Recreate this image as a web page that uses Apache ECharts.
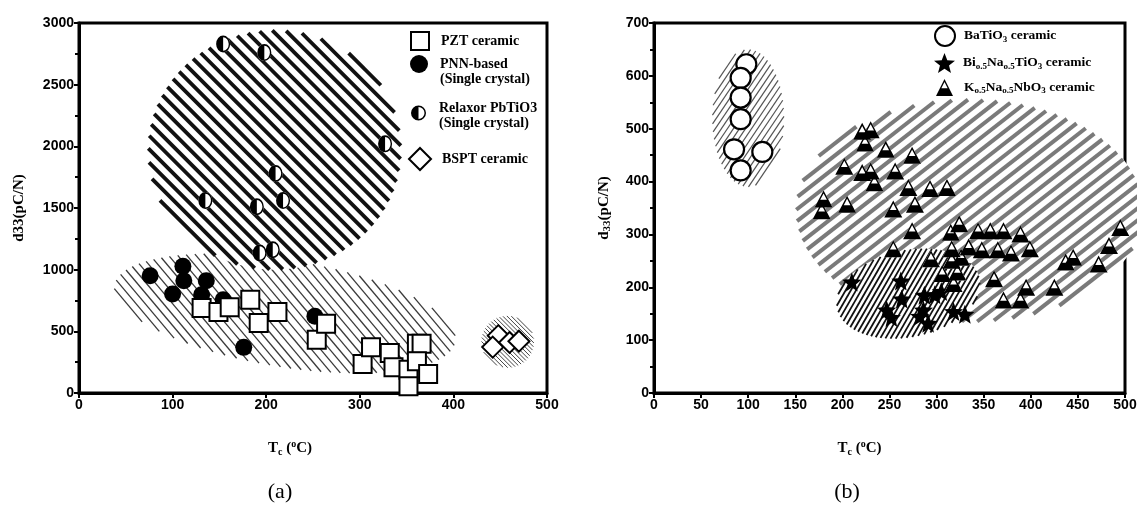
<!DOCTYPE html>
<html><head><meta charset="utf-8">
<script src="https://cdn.jsdelivr.net/npm/echarts@6/dist/echarts.min.js"></script>
<style>html,body{margin:0;padding:0;background:#fff}#c{width:1137px;height:520px}</style>
</head><body><div id="c"></div>
<script>
// ---------------- data ----------------
const leftXTicks = [0, 100, 200, 300, 400, 500];
const leftYTicks = [0, 500, 1000, 1500, 2000, 2500, 3000];
const rightXTicks = [0, 50, 100, 150, 200, 250, 300, 350, 400, 450, 500];
const rightYTicks = [0, 100, 200, 300, 400, 500, 600, 700];

// (a) Tc (°C), d33 (pC/N)
const pztCeramic = [[131,690],[149,657],[161,695],[183,757],[192,568],[212,657],[254,432],[264,562],[303,235],[312,370],[332,324],[336,208],[352,189],[361,400],[366,400],[361,257],[373,154],[352,54]];
const pnnBased = [[76,951],[111,1027],[112,911],[100,803],[136,911],[131,797],[154,757],[176,370],[252,622]];
const relaxorPbTiO3 = [[154,2830],[198,2760],[327,2020],[210,1780],[135,1560],[190,1510],[218,1560],[193,1135],[207,1162]];
const bsptCeramic = [[448,465],[442,372],[460,410],[470,420]];

// (b)
const batio3Ceramic = [[98,622],[92,596],[92,559],[92,518],[85,461],[115,456],[92,421]];
const bntCeramic = [[210,210],[262,212],[247,157],[252,143],[263,178],[287,185],[298,186],[305,192],[286,157],[282,145],[291,132],[318,154],[330,149]];
const knnCeramic = [[221,495],[230,498],[224,473],[246,461],[274,450],[202,429],[221,417],[230,420],[234,398],[256,420],[270,389],[293,387],[311,389],[180,367],[178,345],[205,357],[254,348],[277,357],[274,307],[254,273],[315,304],[324,320],[344,307],[357,307],[371,307],[389,301],[316,273],[334,276],[348,271],[365,271],[379,265],[399,273],[294,254],[316,251],[326,257],[306,226],[322,229],[318,207],[361,216],[395,200],[425,200],[371,176],[389,176],[437,248],[445,257],[472,244],[483,279],[495,313]];

// shaded regions: [centreX, centreY, semiAxis1 dx, dy, semiAxis2 dx, dy] in data units
const leftRegions = [
  [220, 645, 182, -232, -11, -426],   // PNN / PZT region
  [209, 1970, 135, 0, 0, 970],        // relaxor single crystals
  [458, 415, 28, 0, 0, 210]           // BSPT
];
const rightRegions = [
  [335, 345, 184, 0, 0, 210],         // KNN
  [270, 188, 76, 14, 4, 84],          // BNT
  [100, 520, 38, 0, 0, 130]           // BaTiO3
];

// ---------------- styles ----------------
const SANS = 'Liberation Sans, Arial, sans-serif';
const SERIF = 'Liberation Serif, Times New Roman, serif';
const leftHatch = [
  {angle:-50, gap:7, width:1.3, color:'#3a3a3a'},
  {angle:-45, gap:9.5, width:3.8, color:'#111'},
  {angle:-45, gap:3, width:1, color:'#444'}
];
const rightHatch = [
  {angle:38, gap:9.5, width:4, color:'#7a7a7a'},
  {angle:60, gap:4.5, width:1.8, color:'#111'},
  {angle:56, gap:5, width:1.2, color:'#555'}
];

const HALF_CIRCLE = 'path://M10,0A10,10,0,1,1,10,20A10,10,0,1,1,10,0ZM10,2L10,18A8,8,0,0,0,10,2Z';
const HALF_TRI = 'path://M10,0L20,20L0,20ZM10,3.6L6.3,11L13.7,11Z';
const TRI = 'path://M10,0L20,20L0,20Z';
const STAR = 'path://M10,0L12.53,6.52L19.51,6.91L14.09,11.33L15.88,18.09L10,14.3L4.12,18.09L5.91,11.33L0.49,6.91L7.47,6.52Z';

function hatchRender(styles){
  return function(params, api){
    const st = styles[params.dataIndex];
    const cx=api.value(0), cy=api.value(1), ux=api.value(2), uy=api.value(3), vx=api.value(4), vy=api.value(5);
    const N=140, pts=[];
    for(let k=0;k<N;k++){
      const t=2*Math.PI*k/N;
      pts.push(api.coord([cx+ux*Math.cos(t)+vx*Math.sin(t), cy+uy*Math.cos(t)+vy*Math.sin(t)]));
    }
    const th=st.angle*Math.PI/180;
    const d=[Math.cos(th), -Math.sin(th)], n=[Math.sin(th), Math.cos(th)];
    let smin=Infinity, smax=-Infinity;
    const s=pts.map(p=>{const v=p[0]*n[0]+p[1]*n[1]; if(v<smin)smin=v; if(v>smax)smax=v; return v;});
    const children=[{type:'polygon', shape:{points:pts}, style:{fill:'#fff', stroke:null}}];
    for(let o=Math.ceil(smin/st.gap)*st.gap; o<=smax; o+=st.gap){
      let tmin=Infinity, tmax=-Infinity;
      for(let k=0;k<N;k++){
        const a=pts[k], b=pts[(k+1)%N], sa=s[k], sb=s[(k+1)%N];
        if((sa-o)*(sb-o)<=0 && sa!==sb){
          const f=(o-sa)/(sb-sa);
          const qx=a[0]+f*(b[0]-a[0]), qy=a[1]+f*(b[1]-a[1]);
          const tt=qx*d[0]+qy*d[1];
          if(tt<tmin)tmin=tt; if(tt>tmax)tmax=tt;
        }
      }
      if(tmax>tmin){
        const bx=n[0]*o, by=n[1]*o;
        children.push({type:'line', shape:{x1:bx+d[0]*tmin, y1:by+d[1]*tmin, x2:bx+d[0]*tmax, y2:by+d[1]*tmax},
          style:{stroke:st.color, lineWidth:st.width}});
      }
    }
    return {type:'group', children};
  };
}

const nameRich = {
  n:{fontFamily:SERIF, fontWeight:'bold', fontSize:15, color:'#000', lineHeight:18},
  sub:{fontFamily:SERIF, fontWeight:'bold', fontSize:10, color:'#000', verticalAlign:'bottom', lineHeight:8},
  sup:{fontFamily:SERIF, fontWeight:'bold', fontSize:10, color:'#000', verticalAlign:'top', lineHeight:8},
  s:{fontFamily:SERIF, fontWeight:'bold', fontSize:11, color:'#000', verticalAlign:'bottom', lineHeight:9}
};

function mkX(gi, ticks, shift){
  return {
    gridIndex:gi, type:'value', min:ticks[0], max:ticks[ticks.length-1], interval:ticks[1]-ticks[0],
    axisLine:{show:true, onZero:false, lineStyle:{color:'#000', width:3}},
    axisTick:{show:true, length:5, lineStyle:{color:'#000', width:2}},
    axisLabel:{color:'#000', fontFamily:SANS, fontWeight:'bold', fontSize:14, margin:5, formatter:v=>String(v)},
    splitLine:{show:false},
    name:'{n|T}{sub|c}{n| (}{sup|o}{n|C)}', nameLocation:'middle', nameGap:46,
    nameTextStyle:{padding:[0, shift*2, 0, 0], rich:nameRich}
  };
}
function mkY(gi, ticks, name, gap){
  return {
    gridIndex:gi, type:'value', min:ticks[0], max:ticks[ticks.length-1], interval:ticks[1]-ticks[0],
    axisLine:{show:true, onZero:false, lineStyle:{color:'#000', width:3}},
    axisTick:{show:true, length:5, lineStyle:{color:'#000', width:2}},
    minorTick:{show:true, splitNumber:2, length:4, lineStyle:{color:'#000', width:2}},
    axisLabel:{color:'#000', fontFamily:SANS, fontWeight:'bold', fontSize:14, margin:5, formatter:v=>String(v)},
    splitLine:{show:false},
    name:name, nameLocation:'middle', nameGap:gap, nameRotate:90,
    nameTextStyle:{rich:nameRich}
  };
}

const legRich = {
  n:{fontFamily:SERIF, fontWeight:'bold', fontSize:14, color:'#000', lineHeight:15},
  r:{fontFamily:SERIF, fontWeight:'bold', fontSize:13.5, color:'#000', lineHeight:16},
  s:{fontFamily:SERIF, fontWeight:'bold', fontSize:9, color:'#000', verticalAlign:'bottom', lineHeight:6}
};
const legendText = {
  'PZT ceramic':'{n|PZT ceramic}',
  'PNN-based':'{n|PNN-based}\n{n|(Single crystal)}',
  'Relaxor PbTiO3':'{n|Relaxor PbTiO3}\n{n|(Single crystal)}',
  'BSPT ceramic':'{n|BSPT ceramic}',
  'BaTiO3 ceramic':'{r|BaTiO}{s|3}{r| ceramic}',
  'Bi0.5Na0.5TiO3 ceramic':'{r|Bi}{s|o.5}{r|Na}{s|o.5}{r|TiO}{s|3}{r| ceramic}',
  'K0.5Na0.5NbO3 ceramic':'{r|K}{s|o.5}{r|Na}{s|o.5}{r|NbO}{s|3}{r| ceramic}'
};
function leg(name, left, top, w, h, pad){
  return {data:[name], left:left, top:top, itemWidth:w, itemHeight:h, padding:0, selectedMode:false,
    formatter:n=>legendText[n], textStyle:{padding:pad, rich:legRich}};
}

const scat = (name, gi, data, symbol, size, fill, border, bw) => ({
  type:'scatter', name, xAxisIndex:gi, yAxisIndex:gi, data, symbol, symbolSize:size,
  itemStyle:{color:fill, borderColor:border, borderWidth:bw, opacity:1}, silent:true
});

const option = {
  animation:false,
  backgroundColor:'#fff',
  grid:[
    {left:79, top:23, width:468, height:370, show:true, borderColor:'#000', borderWidth:3, backgroundColor:'transparent', outerBoundsMode:'none', containLabel:false},
    {left:654, top:23, width:471, height:370, show:true, borderColor:'#000', borderWidth:3, backgroundColor:'transparent', outerBoundsMode:'none', containLabel:false}
  ],
  xAxis:[mkX(0, leftXTicks, 23), mkX(1, rightXTicks, 30)],
  yAxis:[mkY(0, leftYTicks, '{n|d33(pC/N)}', 51), mkY(1, rightYTicks, '{n|d}{s|33}{n|(pC/N)}', 41)],
  legend:[
    leg('PZT ceramic', 410, 31, 18, 18, [0,0,0,7]),
    leg('PNN-based', 410, 55, 18, 18, [15,0,0,7]),
    leg('Relaxor PbTiO3', 411, 101, 15, 18, [5,0,0,8]),
    leg('BSPT ceramic', 408, 147, 22, 22, [0,0,0,6]),
    leg('BaTiO3 ceramic', 934, 25, 20, 20, [0,0,0,4]),
    leg('Bi0.5Na0.5TiO3 ceramic', 934, 53, 21, 20, [0,0,0,3]),
    leg('K0.5Na0.5NbO3 ceramic', 936, 79, 17, 17, [0,0,0,6])
  ],
  graphic:[
    {type:'text', style:{text:'(a)', x:280, y:492, fontFamily:SERIF, fontSize:22, fill:'#000', textAlign:'center', textVerticalAlign:'middle'}},
    {type:'text', style:{text:'(b)', x:847, y:492, fontFamily:SERIF, fontSize:22, fill:'#000', textAlign:'center', textVerticalAlign:'middle'}}
  ],
  series:[
    {type:'custom', name:'regionsA', xAxisIndex:0, yAxisIndex:0, data:leftRegions, renderItem:hatchRender(leftHatch), clip:false, silent:true, z:1},
    {type:'custom', name:'regionsB', xAxisIndex:1, yAxisIndex:1, data:rightRegions, renderItem:hatchRender(rightHatch), clip:false, silent:true, z:1},
    scat('PNN-based', 0, pnnBased, 'circle', 17, '#000', '#000', 0),
    scat('PZT ceramic', 0, pztCeramic, 'rect', 18, '#fff', '#000', 2),
    scat('relaxorBase', 0, relaxorPbTiO3, 'circle', [14,17], '#fff', '#fff', 0),
    scat('Relaxor PbTiO3', 0, relaxorPbTiO3, HALF_CIRCLE, [14,17], '#000', '#000', 0),
    scat('BSPT ceramic', 0, bsptCeramic, 'diamond', 21, '#fff', '#000', 2),
    scat('BaTiO3 ceramic', 1, batio3Ceramic, 'circle', 20, '#fff', '#000', 2.2),
    scat('Bi0.5Na0.5TiO3 ceramic', 1, bntCeramic, STAR, 19, '#000', '#000', 0),
    scat('knnBase', 1, knnCeramic, TRI, [18,17], '#fff', '#fff', 0),
    scat('K0.5Na0.5NbO3 ceramic', 1, knnCeramic, HALF_TRI, [18,17], '#000', '#000', 0)
  ]
};

const chart = echarts.init(document.getElementById('c'), null, {renderer:'canvas'});
chart.setOption(option);
</script>
</body></html>
